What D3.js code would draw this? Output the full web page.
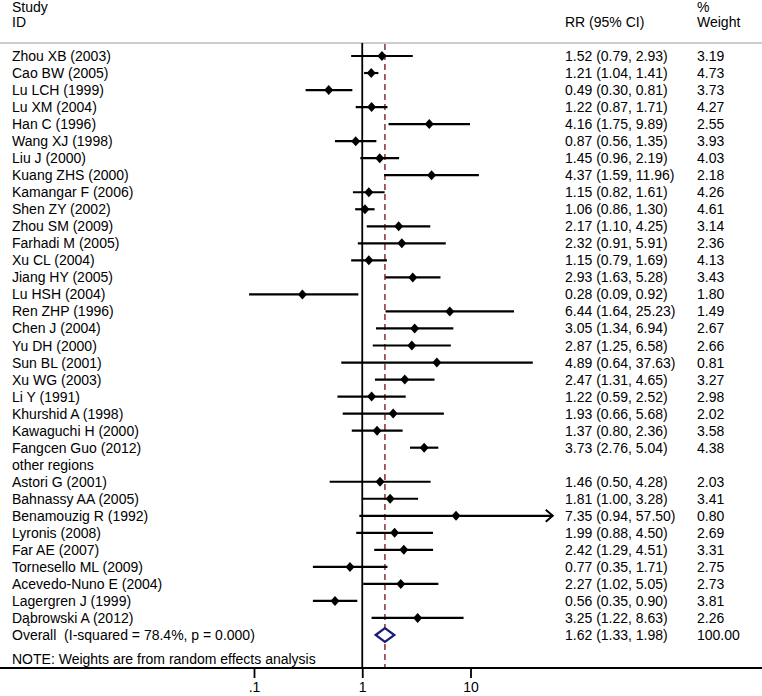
<!DOCTYPE html>
<html><head><meta charset="utf-8">
<script src="https://cdn.jsdelivr.net/npm/d3@7"></script>
<style>
html,body{margin:0;padding:0;background:#fff;}
svg text{font-family:"Liberation Sans",Arial,sans-serif;font-size:14px;fill:#000;white-space:pre;}
</style></head>
<body>
<svg id="chart" width="762" height="696"></svg>
<script>
const studies = ["Zhou XB (2003)","Cao BW (2005)","Lu LCH (1999)","Lu XM (2004)","Han C (1996)","Wang XJ (1998)","Liu J (2000)","Kuang ZHS (2000)","Kamangar F (2006)","Shen ZY (2002)","Zhou SM (2009)","Farhadi M (2005)","Xu CL (2004)","Jiang HY (2005)","Lu HSH (2004)","Ren ZHP (1996)","Chen J (2004)","Yu DH (2000)","Sun BL (2001)","Xu WG (2003)","Li Y (1991)","Khurshid A (1998)","Kawaguchi H (2000)","Fangcen Guo (2012)","other regions","Astori G (2001)","Bahnassy AA (2005)","Benamouzig R (1992)","Lyronis (2008)","Far AE (2007)","Tornesello ML (2009)","Acevedo-Nuno E (2004)","Lagergren J (1999)","Dąbrowski A (2012)"];
const rr =    [1.52,1.21,0.49,1.22,4.16,0.87,1.45,4.37,1.15,1.06,2.17,2.32,1.15,2.93,0.28,6.44,3.05,2.87,4.89,2.47,1.22,1.93,1.37,3.73,null,1.46,1.81,7.35,1.99,2.42,0.77,2.27,0.56,3.25];
const lower = [0.79,1.04,0.30,0.87,1.75,0.56,0.96,1.59,0.82,0.86,1.10,0.91,0.79,1.63,0.09,1.64,1.34,1.25,0.64,1.31,0.59,0.66,0.80,2.76,null,0.50,1.00,0.94,0.88,1.29,0.35,1.02,0.35,1.22];
const upper = [2.93,1.41,0.81,1.71,9.89,1.35,2.19,11.96,1.61,1.30,4.25,5.91,1.69,5.28,0.92,25.23,6.94,6.58,37.63,4.65,2.52,5.68,2.36,5.04,null,4.28,3.28,57.50,4.50,4.51,1.71,5.05,0.90,8.63];
const weights = ["3.19","4.73","3.73","4.27","2.55","3.93","4.03","2.18","4.26","4.61","3.14","2.36","4.13","3.43","1.80","1.49","2.67","2.66","0.81","3.27","2.98","2.02","3.58","4.38","","2.03","3.41","0.80","2.69","3.31","2.75","2.73","3.81","2.26"];
const overall = {label:"Overall  (I-squared = 78.4%, p = 0.000)", rr:1.62, lo:1.33, hi:1.98, weight:"100.00"};
const tickValues = [0.1, 1, 10];
const tickLabels = [".1", "1", "10"];
const clipMax = 40;

const svg = d3.select("#chart");
const W = 762;
const x = d3.scaleLog().domain([0.1, 10]).range([254, 470.5]);
const nRows = studies.length + 1;
const y = d3.scaleLinear().domain([0, nRows - 1]).range([56, 635]);
const fmt = d3.format(".2f");

const topY = 43, axisY = 668;

// header
svg.append("text").attr("x", 12).attr("y", 12).text("Study");
svg.append("text").attr("x", 12).attr("y", 27).text("ID");
svg.append("text").attr("x", 565).attr("y", 27).text("RR (95% CI)");
svg.append("text").attr("x", 697).attr("y", 12).text("%");
svg.append("text").attr("x", 697).attr("y", 27).text("Weight");
svg.append("line").attr("x1", 0).attr("x2", W).attr("y1", topY).attr("y2", topY)
  .attr("stroke", "#bdbdbd").attr("stroke-width", 1.5);

// reference lines
svg.append("line").attr("x1", x(1)).attr("x2", x(1)).attr("y1", topY).attr("y2", axisY)
  .attr("stroke", "#000").attr("stroke-width", 1.8);
svg.append("line").attr("x1", x(overall.rr)).attr("x2", x(overall.rr)).attr("y1", topY + 1).attr("y2", axisY)
  .attr("stroke", "#8b2c35").attr("stroke-width", 1.5).attr("stroke-dasharray", "6,4");

// study rows
const data = studies.map((s, i) => ({name: s, rr: rr[i], lo: lower[i], hi: upper[i], w: weights[i], i}));
const g = svg.append("g");
data.forEach(d => {
  const yy = y(d.i);
  g.append("text").attr("x", 12).attr("y", yy + 5).text(d.name);
  if (d.rr == null) return;
  g.append("text").attr("x", 565).attr("y", yy + 5)
    .text(`${fmt(d.rr)} (${fmt(d.lo)}, ${fmt(d.hi)})`);
  g.append("text").attr("x", 697).attr("y", yy + 5).text(d.w);
  const x2 = x(d.hi);
  g.append("line").attr("x1", x(d.lo)).attr("x2", x2).attr("y1", yy).attr("y2", yy)
    .attr("stroke", "#000").attr("stroke-width", 2.2);
  if (d.hi > clipMax) {
    g.append("path").attr("d", `M${x2 - 7},${yy - 6}L${x2},${yy}L${x2 - 7},${yy + 6}`)
      .attr("fill", "none").attr("stroke", "#000").attr("stroke-width", 2);
  }
  const cx = x(d.rr);
  g.append("path").attr("d", `M${cx - 4.5},${yy}L${cx},${yy - 5}L${cx + 4.5},${yy}L${cx},${yy + 5}Z`)
    .attr("fill", "#000");
});

// overall row
const oy = y(nRows - 1);
svg.append("text").attr("x", 12).attr("y", oy + 5).text(overall.label);
svg.append("text").attr("x", 565).attr("y", oy + 5)
  .text(`${fmt(overall.rr)} (${fmt(overall.lo)}, ${fmt(overall.hi)})`);
svg.append("text").attr("x", 697).attr("y", oy + 5).text(overall.weight);
svg.append("path")
  .attr("d", `M${x(overall.lo)},${oy}L${x(overall.rr)},${oy - 7}L${x(overall.hi)},${oy}L${x(overall.rr)},${oy + 7}Z`)
  .attr("fill", "#fff").attr("stroke", "#1a1a78").attr("stroke-width", 2.2);

svg.append("text").attr("x", 12).attr("y", 664).text("NOTE: Weights are from random effects analysis");

// axis
svg.append("line").attr("x1", 0).attr("x2", W).attr("y1", axisY).attr("y2", axisY)
  .attr("stroke", "#000").attr("stroke-width", 1.8);
const axis = d3.axisBottom(x).tickValues(tickValues)
  .tickFormat((d, i) => tickLabels[i]).tickSize(10).tickPadding(8);
const ag = svg.append("g").attr("transform", `translate(0,${axisY})`).call(axis);
ag.select(".domain").remove();
ag.selectAll(".tick line").attr("stroke", "#000").attr("stroke-width", 1.8);
ag.selectAll(".tick text").attr("font-family", "Liberation Sans, Arial, sans-serif")
  .attr("font-size", 14).attr("fill", "#000").attr("y", 24).attr("dy", 0);
</script>
</body></html>
